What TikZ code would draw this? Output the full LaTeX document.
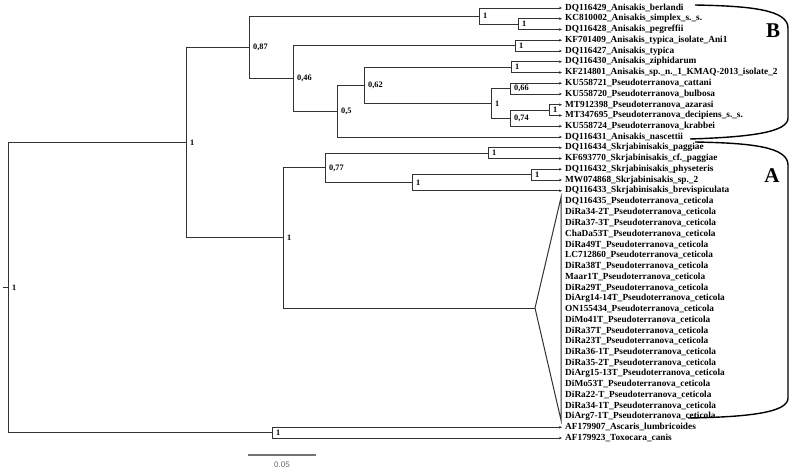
\documentclass[tikz,border=0pt]{standalone}
\usepackage{fontspec}
\setmainfont{Liberation Serif}
\newfontfamily\scalebarfont{Liberation Sans}
\usetikzlibrary{arrows.meta}
\begin{document}
\begin{tikzpicture}[x=1pt,y=-1pt,
  br/.style={draw=black!80, line width=1pt},
  lf/.style={br, -{Stealth[length=3pt,width=2.6pt]}},
  leaf/.style={anchor=west, inner sep=0pt, font=\fontsize{9.3}{10}\selectfont\bfseries},
  supp/.style={anchor=west, inner sep=0pt, xshift=4pt, font=\fontsize{8.3}{9}\selectfont\bfseries},
  brk/.style={draw=black, line width=1.4pt},
  biglet/.style={inner sep=0pt, font=\fontsize{21}{23}\selectfont\bfseries}]
\useasboundingbox (0,0) rectangle (793,469);

% internal nodes
\coordinate (root) at (8,287.6);
\coordinate (rs) at (3,287.6);
\coordinate (n1) at (186,142.6);
\coordinate (n2) at (249,47.2);
\coordinate (nAS) at (479,16.06);
\coordinate (nSP) at (518,24.13);
\coordinate (n3) at (293,78.4);
\coordinate (nTY) at (515,45.63);
\coordinate (n5) at (337,111.1);
\coordinate (n6) at (364,85.27);
\coordinate (nZI) at (511,67.13);
\coordinate (n7) at (491,103.4);
\coordinate (nCB) at (510,88.63);
\coordinate (nDK) at (510,118.19);
\coordinate (nAD) at (549,110.13);
\coordinate (n4) at (283,237.95);
\coordinate (n77) at (325,167.9);
\coordinate (nPG) at (488,153.13);
\coordinate (n9) at (412,182.7);
\coordinate (nPH) at (531,174.63);
\coordinate (nOG) at (272,432.63);
\coordinate (cA) at (535,308);
\coordinate (cT) at (561,197.5);
\coordinate (cB) at (561,420);

% leaf tips
\coordinate (L1) at (562,8);
\coordinate (L2) at (562,18.75);
\coordinate (L3) at (562,29.5);
\coordinate (L4) at (562,40.25);
\coordinate (L5) at (562,51);
\coordinate (L6) at (562,61.75);
\coordinate (L7) at (562,72.5);
\coordinate (L8) at (562,83.25);
\coordinate (L9) at (562,94);
\coordinate (L10) at (562,104.75);
\coordinate (L11) at (562,115.5);
\coordinate (L12) at (562,126.25);
\coordinate (L13) at (562,137);
\coordinate (L14) at (562,147.75);
\coordinate (L15) at (562,158.5);
\coordinate (L16) at (562,169.25);
\coordinate (L17) at (562,180);
\coordinate (L18) at (562,190.75);
\coordinate (L40) at (562,427.25);
\coordinate (L41) at (562,438);

% branches
\draw[br] (rs) -- (root);
\draw[br] (root) |- (n1);
\draw[br] (root) |- (nOG);
\draw[br] (n1) |- (n2);
\draw[br] (n1) |- (n4);
\draw[br] (n2) |- (nAS);
\draw[br] (n2) |- (n3);
\draw[lf] (nAS) |- (L1);
\draw[br] (nAS) |- (nSP);
\draw[lf] (nSP) |- (L2);
\draw[lf] (nSP) |- (L3);
\draw[br] (n3) |- (nTY);
\draw[br] (n3) |- (n5);
\draw[lf] (nTY) |- (L4);
\draw[lf] (nTY) |- (L5);
\draw[br] (n5) |- (n6);
\draw[lf] (n5) |- (L13);
\draw[br] (n6) |- (nZI);
\draw[br] (n6) |- (n7);
\draw[lf] (nZI) |- (L6);
\draw[lf] (nZI) |- (L7);
\draw[br] (n7) |- (nCB);
\draw[br] (n7) |- (nDK);
\draw[lf] (nCB) |- (L8);
\draw[lf] (nCB) |- (L9);
\draw[br] (nDK) |- (nAD);
\draw[lf] (nDK) |- (L12);
\draw[lf] (nAD) |- (L10);
\draw[lf] (nAD) |- (L11);
\draw[br] (n4) |- (n77);
\draw[br] (n4) |- (cA);
\draw[br] (n77) |- (nPG);
\draw[br] (n77) |- (n9);
\draw[lf] (nPG) |- (L14);
\draw[lf] (nPG) |- (L15);
\draw[br] (n9) |- (nPH);
\draw[lf] (n9) |- (L18);
\draw[lf] (nPH) |- (L16);
\draw[lf] (nPH) |- (L17);
\draw[br] (cA) -- (cT) -- (cB) -- cycle;
\draw[lf] (nOG) |- (L40);
\draw[lf] (nOG) |- (L41);

% support values
\node[supp] (sroot) at (root) {1};
\node[supp] (s1) at (n1) {1};
\node[supp] (s2) at (n2) {0,87};
\node[supp] (sAS) at (nAS) {1};
\node[supp] (sSP) at (nSP) {1};
\node[supp] (s3) at (n3) {0,46};
\node[supp] (sTY) at (nTY) {1};
\node[supp] (s5) at (n5) {0,5};
\node[supp] (s6) at (n6) {0,62};
\node[supp] (sZI) at (nZI) {1};
\node[supp] (s7) at (n7) {1};
\node[supp] (sCB) at (nCB) {0,66};
\node[supp] (sDK) at (nDK) {0,74};
\node[supp] (sAD) at (nAD) {1};
\node[supp] (s4) at (n4) {1};
\node[supp] (s77) at (n77) {0,77};
\node[supp] (sPG) at (nPG) {1};
\node[supp] (s9) at (n9) {1};
\node[supp] (sPH) at (nPH) {1};
\node[supp] (sOG) at (nOG) {1};

% leaf labels
\node[leaf] (t1) at (565,8) {DQ116429\_Anisakis\_berlandi};
\node[leaf] (t2) at (565,18.75) {KC810002\_Anisakis\_simplex\_s.\_s.};
\node[leaf] (t3) at (565,29.5) {DQ116428\_Anisakis\_pegreffii};
\node[leaf] (t4) at (565,40.25) {KF701409\_Anisakis\_typica\_isolate\_Ani1};
\node[leaf] (t5) at (565,51) {DQ116427\_Anisakis\_typica};
\node[leaf] (t6) at (565,61.75) {DQ116430\_Anisakis\_ziphidarum};
\node[leaf] (t7) at (565,72.5) {KF214801\_Anisakis\_sp.\_n.\_1\_KMAQ-2013\_isolate\_2};
\node[leaf] (t8) at (565,83.25) {KU558721\_Pseudoterranova\_cattani};
\node[leaf] (t9) at (565,94) {KU558720\_Pseudoterranova\_bulbosa};
\node[leaf] (t10) at (565,104.75) {MT912398\_Pseudoterranova\_azarasi};
\node[leaf] (t11) at (565,115.5) {MT347695\_Pseudoterranova\_decipiens\_s.\_s.};
\node[leaf] (t12) at (565,126.25) {KU558724\_Pseudoterranova\_krabbei};
\node[leaf] (t13) at (565,137) {DQ116431\_Anisakis\_nascettii};
\node[leaf] (t14) at (565,147.75) {DQ116434\_Skrjabinisakis\_paggiae};
\node[leaf] (t15) at (565,158.5) {KF693770\_Skrjabinisakis\_cf.\_paggiae};
\node[leaf] (t16) at (565,169.25) {DQ116432\_Skrjabinisakis\_physeteris};
\node[leaf] (t17) at (565,180) {MW074868\_Skrjabinisakis\_sp.\_2};
\node[leaf] (t18) at (565,190.75) {DQ116433\_Skrjabinisakis\_brevispiculata};
\node[leaf] (t19) at (565,201.5) {DQ116435\_Pseudoterranova\_ceticola};
\node[leaf] (t20) at (565,212.25) {DiRa34-2T\_Pseudoterranova\_ceticola};
\node[leaf] (t21) at (565,223) {DiRa37-3T\_Pseudoterranova\_ceticola};
\node[leaf] (t22) at (565,233.75) {ChaDa53T\_Pseudoterranova\_ceticola};
\node[leaf] (t23) at (565,244.5) {DiRa49T\_Pseudoterranova\_ceticola};
\node[leaf] (t24) at (565,255.25) {LC712860\_Pseudoterranova\_ceticola};
\node[leaf] (t25) at (565,266) {DiRa38T\_Pseudoterranova\_ceticola};
\node[leaf] (t26) at (565,276.75) {Maar1T\_Pseudoterranova\_ceticola};
\node[leaf] (t27) at (565,287.5) {DiRa29T\_Pseudoterranova\_ceticola};
\node[leaf] (t28) at (565,298.25) {DiArg14-14T\_Pseudoterranova\_ceticola};
\node[leaf] (t29) at (565,309) {ON155434\_Pseudoterranova\_ceticola};
\node[leaf] (t30) at (565,319.75) {DiMo41T\_Pseudoterranova\_ceticola};
\node[leaf] (t31) at (565,330.5) {DiRa37T\_Pseudoterranova\_ceticola};
\node[leaf] (t32) at (565,341.25) {DiRa23T\_Pseudoterranova\_ceticola};
\node[leaf] (t33) at (565,352) {DiRa36-1T\_Pseudoterranova\_ceticola};
\node[leaf] (t34) at (565,362.75) {DiRa35-2T\_Pseudoterranova\_ceticola};
\node[leaf] (t35) at (565,373.5) {DiArg15-13T\_Pseudoterranova\_ceticola};
\node[leaf] (t36) at (565,384.25) {DiMo53T\_Pseudoterranova\_ceticola};
\node[leaf] (t37) at (565,395) {DiRa22-T\_Pseudoterranova\_ceticola};
\node[leaf] (t38) at (565,405.75) {DiRa34-1T\_Pseudoterranova\_ceticola};
\node[leaf] (t39) at (565,416.5) {DiArg7-1T\_Pseudoterranova\_ceticola};
\node[leaf] (t40) at (565,427.25) {AF179907\_Ascaris\_lumbricoides};
\node[leaf] (t41) at (565,438) {AF179923\_Toxocara\_canis};

% brackets
\draw[brk] (695,5) .. controls (752,6) and (788,10) .. (788,28) -- (788,118) .. controls (788,132) and (752,137) .. (690,139);
\draw[brk] (695,142) .. controls (752,143) and (788,147) .. (788,165) -- (788,398) .. controls (788,412) and (752,417) .. (688,418);
\node[biglet] (labB) at (773,31) {B};
\node[biglet] (labA) at (772,176) {A};

% scale bar
\coordinate (sb1) at (248,455);
\coordinate (sb2) at (316,455);
\draw[draw=black!55, line width=1.1pt] (sb1) -- (sb2);
\node[inner sep=0pt, text=black!60, font=\scalebarfont\fontsize{8}{9}\selectfont] (sbl) at (282,465) {0.05};
\end{tikzpicture}
\end{document}
